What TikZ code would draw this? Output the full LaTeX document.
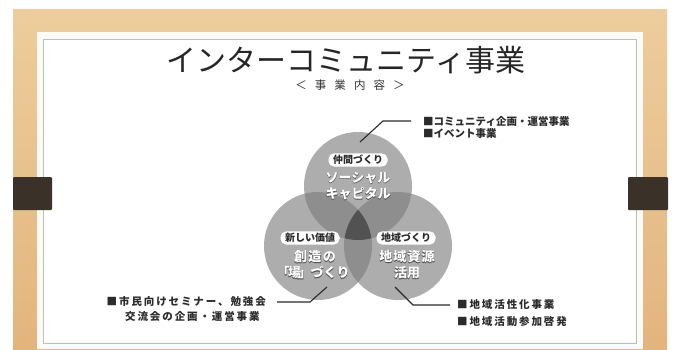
\documentclass[tikz,border=0pt]{standalone}
\usepackage{fontspec}
\newfontfamily\jp{Noto Sans CJK JP}
\newfontfamily\jpfb[FakeBold=2.2]{Noto Sans CJK JP}
\definecolor{woodA}{HTML}{EDCD9C}
\definecolor{woodB}{HTML}{E3B57D}
\definecolor{board}{HTML}{FAFAF8}
\definecolor{frameC}{HTML}{B9C3AE}
\definecolor{tabC}{HTML}{3A3129}
\definecolor{sgl}{HTML}{ADADAD}
\definecolor{dbl}{HTML}{8E8E8E}
\definecolor{tri}{HTML}{525252}
\definecolor{inkC}{HTML}{2B2B2B}
\definecolor{outC}{HTML}{555555}
\tikzset{
  pill/.style={fill=white, rounded corners=5.5pt, inner xsep=4.5pt, inner ysep=1.8pt,
    font=\jp\bfseries\fontsize{10}{10}\selectfont, text=inkC},
  ctextdark/.style={font=\jpfb\bfseries\fontsize{13}{13}\selectfont, text=outC, inner sep=0pt},
  ctextlight/.style={font=\jp\bfseries\fontsize{13}{13}\selectfont, text=white, inner sep=0pt},
  listtext/.style={font=\jp\bfseries\fontsize{10.5}{10.5}\selectfont, text=inkC, inner sep=0pt},
  leader/.style={draw=inkC, line width=1.1pt},
}
\newcommand{\outltext}[3]{%
  \node[ctextdark] (#2d) at (#1) {#3};
  \node[ctextlight] (#2) at (#1) {#3};}
\begin{document}
\begin{tikzpicture}[x=1pt,y=-1pt]
\useasboundingbox (0,0) rectangle (673,349);
\fill[white] (0,0) rectangle (673,349);
% wood background
\shade[top color=woodA, bottom color=woodB] (13,9) rectangle (667,349);
% board
\fill[board] (37,32) rectangle (643,349);
\fill[white] (44,40) rectangle (635,342);
\draw[frameC, line width=0.9pt] (43,39) rectangle (636,343);
% tabs
\fill[tabC, rounded corners=1pt] (13,177) rectangle (52,210);
\fill[tabC, rounded corners=1pt] (628,177) rectangle (668,210);
% title
\node[font=\jp\fontsize{30}{30}\selectfont, text=black!85, inner sep=0pt] (title) at (346,60) {インターコミュニティ事業};
\node[font=\jp\fontsize{11.5}{11.5}\selectfont\addfontfeature{LetterSpace=70}, text=black!80, inner sep=0pt] (sub) at (350,85) {＜事業内容＞};
% circles
\coordinate (T) at (358,186);
\coordinate (L) at (318,246);
\coordinate (R) at (398,246);
\fill[sgl] (T) circle[radius=54pt];
\fill[sgl] (L) circle[radius=54pt];
\fill[sgl] (R) circle[radius=54pt];
\begin{scope}
  \clip (T) circle[radius=54pt];
  \fill[dbl] (L) circle[radius=54pt];
  \fill[dbl] (R) circle[radius=54pt];
\end{scope}
\begin{scope}
  \clip (L) circle[radius=54pt];
  \fill[dbl] (R) circle[radius=54pt];
\end{scope}
\begin{scope}
  \clip (T) circle[radius=54pt];
  \clip (L) circle[radius=54pt];
  \fill[tri] (R) circle[radius=54pt];
\end{scope}
% pills
\node[pill] (pT) at (358,160) {仲間づくり};
\node[pill] (pL) at (310,238) {新しい価値};
\node[pill] (pR) at (406,238) {地域づくり};
% circle texts
\outltext{358,178}{tA}{ソーシャル}
\outltext{358,194}{tB}{キャピタル}
\outltext{315,257}{lA}{\addfontfeature{LetterSpace=10}創造の}
\outltext{313,273}{lB}{「\kern-1.5pt 場\kern-2.5pt 」\kern-1pt づくり}
\outltext{407,257}{rA}{\addfontfeature{LetterSpace=8}地域資源}
\outltext{407,273}{rB}{活用}
% list texts
\node[listtext, anchor=west] (trA) at (423,121) {■コミュニティ企画・運営事業};
\node[listtext, anchor=west] (trB) at (423,134) {■イベント事業};
\node[listtext, anchor=east, font=\jp\bfseries\fontsize{10.5}{10.5}\selectfont\addfontfeature{LetterSpace=18}] (blA) at (266,302) {■市民向けセミナー、勉強会};
\node[listtext, anchor=west, font=\jp\bfseries\fontsize{10.5}{10.5}\selectfont\addfontfeature{LetterSpace=18}] (blB) at (125,316) {交流会の企画・運営事業};
\node[listtext, anchor=west, font=\jp\bfseries\fontsize{10.5}{10.5}\selectfont\addfontfeature{LetterSpace=18}] (brA) at (457,305) {■地域活性化事業};
\node[listtext, anchor=west, font=\jp\bfseries\fontsize{10.5}{10.5}\selectfont\addfontfeature{LetterSpace=18}] (brB) at (457,322) {■地域活動参加啓発};
% leaders
\coordinate (ltS) at (360,142);
\coordinate (ltK) at (383,121);
\coordinate (llS) at (327,287);
\coordinate (llK) at (310,302);
\coordinate (lrS) at (395,287);
\coordinate (lrK) at (413,305);
\draw[leader] (ltS) -- (ltK) -- ([xshift=-12pt]trA.west);
\draw[leader] (llS) -- (llK) -- ([xshift=11pt]blA.east);
\draw[leader] (lrS) -- (lrK) -- ([xshift=-7pt]brA.west);
\end{tikzpicture}
\end{document}
